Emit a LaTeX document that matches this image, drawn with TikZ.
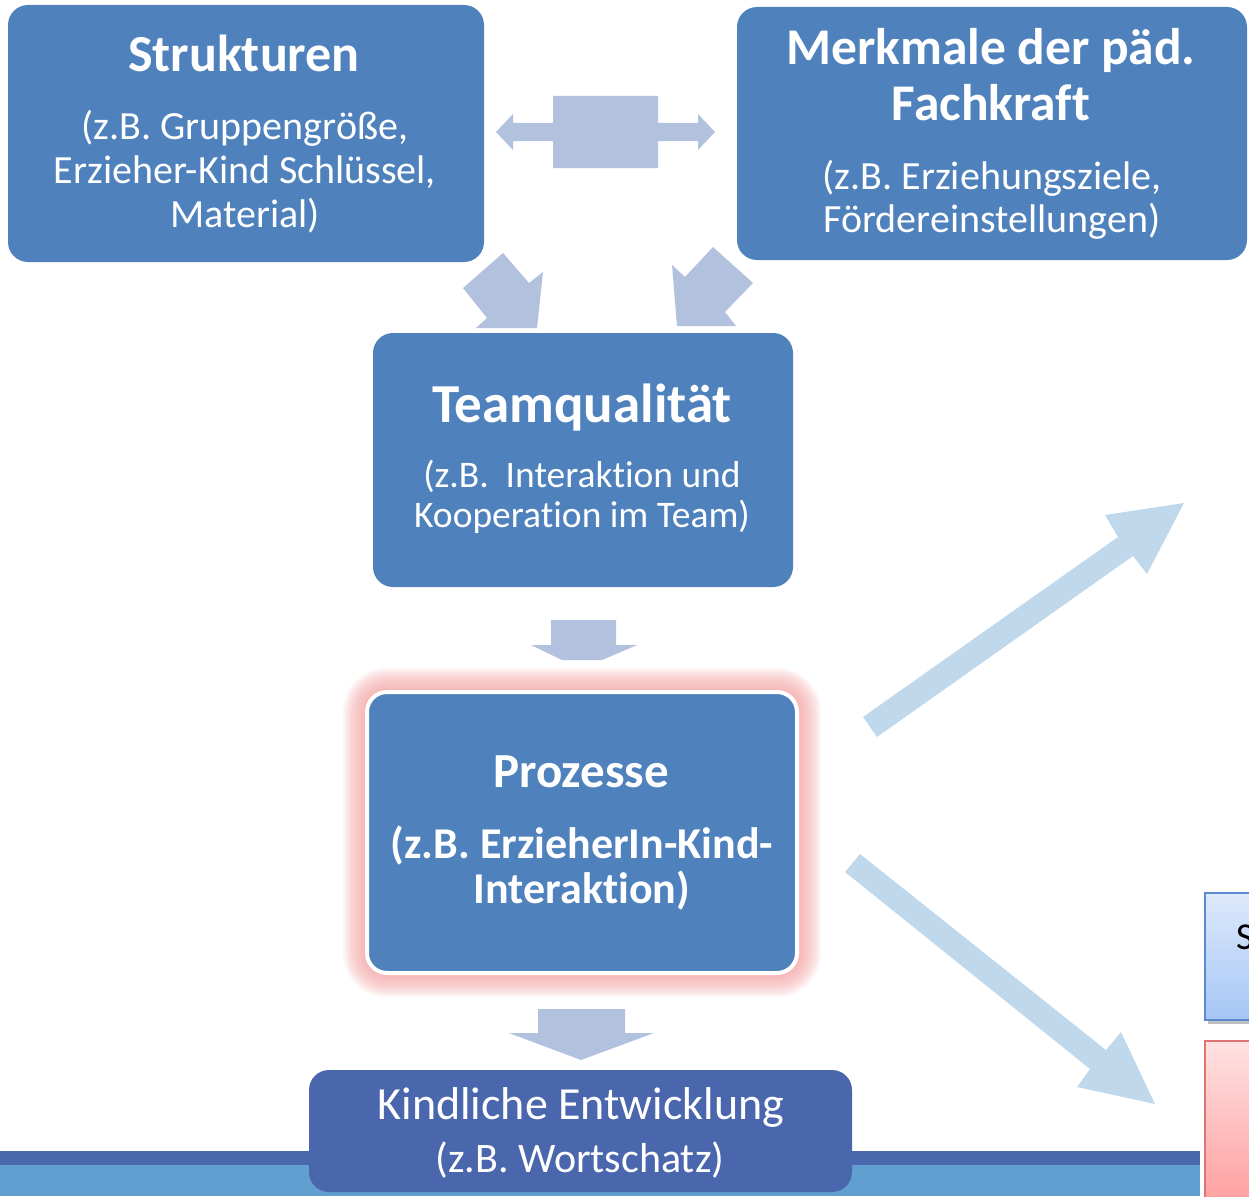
\documentclass[tikz,border=0pt]{standalone}
\usepackage{fontspec}
\setmainfont{Carlito}[Ligatures=NoCommon]
\definecolor{boxblue}{HTML}{4F81BD}
\definecolor{kindblue}{HTML}{4A66AC}
\definecolor{bandlight}{HTML}{629FD1}
\definecolor{arrowgray}{HTML}{B2C2DE}
\definecolor{arrowlight}{HTML}{C0D8EC}
\definecolor{glowpink}{HTML}{F29C9C}
\definecolor{sbtop}{HTML}{DDE9FB}
\definecolor{sbbot}{HTML}{A6C6F6}
\definecolor{sbline}{HTML}{5A8AD0}
\definecolor{rbtop}{HTML}{FFE2E2}
\definecolor{rbbot}{HTML}{FF9C9C}
\definecolor{rbline}{HTML}{DD7575}
\tikzset{
  box/.style={fill=boxblue, draw=none, rounded corners=20pt, inner sep=0pt},
  wtext/.style={text=white, align=center, inner sep=0pt},
  blockarrow/.style={fill=arrowgray, draw=none},
  lightarrow/.style={fill=arrowlight, draw=none}
}
\begin{document}
\begin{tikzpicture}[x=1pt,y=-1pt]
\useasboundingbox (0,0) rectangle (1249,1196);
\clip (0,0) rectangle (1249,1196);

% bottom band
\fill[kindblue] (0,1151) rectangle (1200,1165);
\fill[bandlight] (0,1165) rectangle (1200,1196);

% partial boxes at right edge
\fill[black!25] (1208,897) rectangle (1260,1024);
\shade[top color=sbtop, bottom color=sbbot, draw=sbline, line width=1.5pt] (1205,893) rectangle (1260,1020);
\node[anchor=west, inner sep=0pt, font=\fontsize{38}{40}\selectfont] (sLbl) at (1236,937) {S};
\shade[top color=rbtop, bottom color=rbbot, draw=rbline, line width=1.5pt] (1205,1041) rectangle (1260,1210);

% double arrow between top boxes
\coordinate (dl) at (496,132);
\coordinate (dr) at (715,132);
\fill[blockarrow] (dl) -- (513,114) -- (513,123) -- (553,123) -- (553,96) -- (658,96) -- (658,123)
  -- (698,123) -- (698,114) -- (dr) -- (698,150) -- (698,141) -- (658,141) -- (658,168)
  -- (553,168) -- (553,141) -- (513,141) -- (513,150) -- cycle;

% inward arrows to Teamqualitaet
\fill[blockarrow] (503,253) -- (529,283) -- (543,272) -- (537,328) -- (476,328) -- (487,318) -- (463,288) -- cycle;
\fill[blockarrow] (713,247) -- (753,283) -- (725,312) -- (736,326) -- (677,326) -- (672,265) -- (685,277) -- cycle;

% down arrows
\fill[blockarrow] (551,620) -- (616,620) -- (616,645) -- (637,645) -- (602,660) -- (562,660) -- (531,645) -- (551,645) -- cycle;
\fill[blockarrow] (538,1009) -- (625,1009) -- (625,1033) -- (654,1033) -- (581,1060) -- (509,1033) -- (538,1033) -- cycle;

% outgoing diagonal arrows
\fill[lightarrow] (863,717) -- (1118,537) -- (1105,515) -- (1184,503) -- (1147,574) -- (1133,556) -- (877,737) -- cycle;
\fill[lightarrow] (860,854) -- (1106,1050) -- (1121,1032) -- (1155,1104) -- (1077,1087) -- (1090,1069) -- (845,872) -- cycle;

% Strukturen
\node[box, minimum width=476pt, minimum height=257pt] (struk) at (246,133.5) {};
\node[wtext, font=\bfseries\fontsize{52}{56}\selectfont] (strukT) at (244,53) {Strukturen};
\node[wtext, font=\fontsize{40}{44}\selectfont] (strukB) at (245,172) {(z.B. Gruppengröße,\\Erzieher-Kind Schlüssel,\\Material)};

% Merkmale
\node[box, minimum width=510pt, minimum height=253pt] (merk) at (992,133.5) {};
\node[wtext, font=\bfseries\fontsize{51.5}{56}\selectfont] (merkT) at (991,75) {Merkmale der päd.\\Fachkraft};
\node[wtext, font=\fontsize{40}{43}\selectfont] (merkB) at (992,199.5) {(z.B. Erziehungsziele,\\Fördereinstellungen)};

% Teamqualitaet
\node[box, minimum width=420pt, minimum height=254pt] (team) at (583,460) {};
\node[wtext, font=\bfseries\fontsize{55}{58}\selectfont] (teamT) at (582,408) {Teamqualität};
\node[wtext, font=\fontsize{37.5}{40}\selectfont] (teamB) at (582,497) {(z.B.\ \ Interaktion und\\Kooperation im Team)};

% Prozesse with glow
\foreach \d in {24,22,...,2}{
  \fill[glowpink, opacity=0.1, rounded corners=20pt+\d pt] (367-\d,692-\d) rectangle (797+\d,973+\d);
}
\node[box, draw=white, line width=4pt, minimum width=430pt, minimum height=281pt] (proz) at (582,832.5) {};
\node[wtext, font=\bfseries\fontsize{49}{52}\selectfont] (prozT) at (581,772) {Prozesse};
\node[wtext, font=\bfseries\fontsize{44}{45}\selectfont] (prozB) at (582,867.5) {(z.B. ErzieherIn-Kind-\\Interaktion)};

% Kindliche Entwicklung
\node[box, fill=kindblue, minimum width=543pt, minimum height=122pt] (kind) at (580.5,1131) {};
\node[wtext, font=\fontsize{46}{50}\selectfont] (kindT) at (581,1107) {Kindliche Entwicklung};
\node[wtext, font=\fontsize{42}{46}\selectfont] (kindB) at (580,1160) {(z.B. Wortschatz)};
\end{tikzpicture}
\end{document}
